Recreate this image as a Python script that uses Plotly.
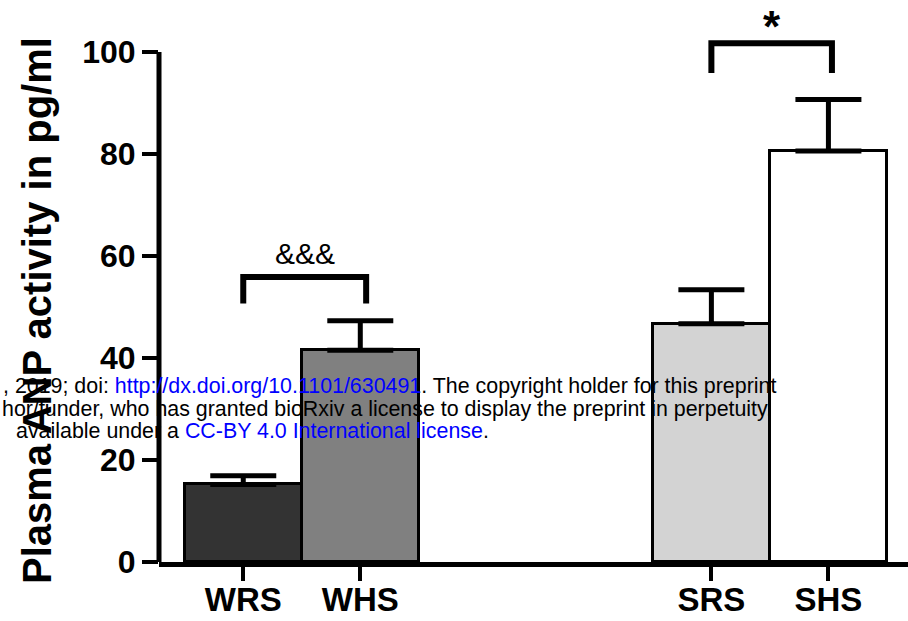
import plotly.graph_objects as go

# Group labels and measured plasma ANP activity (pg/ml), mean and SEM
groups = ["WRS", "WHS", "SRS", "SHS"]
positions = [0, 1, 4, 5]
means = [15.2, 41.5, 46.7, 80.6]
sems = [1.7, 5.8, 6.7, 10.1]
bar_colors = ["#333333", "#808080", "#d3d3d3", "#ffffff"]

y_ticks = [0, 20, 40, 60, 80, 100]

# Significance brackets: (left x, right x, bracket top, leg bottom, label)
brackets = [
    (0.0, 1.05, 55.9, 50.7, "&&&"),
    (4.0, 5.03, 101.7, 95.9, "*"),
]

W, H = 908, 621
L, R, T, B = 159, 0, 0, 59
plot_w, plot_h = W - L - R, H - T - B
PX_PER_UNIT = 5.1


def px_x(px):
    return (px - L) / plot_w


def px_y(py):
    return (H - B - py) / plot_h


fig = go.Figure()
fig.add_trace(go.Bar(
    x=positions,
    y=means,
    width=1.0,
    marker=dict(color=bar_colors, line=dict(color="black", width=3)),
    error_y=dict(type="data", array=sems, arrayminus=[0] * len(sems),
                 symmetric=False, color="black", thickness=5, width=33),
    showlegend=False,
))

shapes = [
    # y axis line, stopping at the top tick
    dict(type="line", xref="paper", yref="y", x0=0, x1=0, y0=0, y1=100,
         line=dict(color="black", width=5)),
]
annotations = []
for x0, x1, top, leg, label in brackets:
    shapes.append(dict(
        type="path", xref="x", yref="y",
        path=f"M {x0},{leg} L {x0},{top} L {x1},{top} L {x1},{leg}",
        line=dict(color="black", width=6),
    ))
    if label == "*":
        annotations.append(dict(
            x=(x0 + x1) / 2, y=1.0, xref="x", yref="paper", text=f"<b>{label}</b>",
            showarrow=False, xanchor="center", yanchor="top",
            font=dict(family="Liberation Sans, Arial", size=44, color="black"),
        ))
    else:
        annotations.append(dict(
            x=(x0 + x1) / 2, y=top + 4.6, xref="x", yref="y", text=label,
            showarrow=False, xanchor="center", yanchor="middle",
            font=dict(family="Liberation Sans, Arial", size=30, color="black"),
        ))

# Rotated y-axis title
annotations.append(dict(
    x=px_x(37), y=px_y(311), xref="paper", yref="paper",
    text="<b>Plasma ANP activity in pg/ml</b>", showarrow=False, textangle=-90,
    xanchor="center", yanchor="middle",
    font=dict(family="Liberation Sans, Arial", size=40, color="black"),
))

# Preprint notice overprinted across the figure
blue = "#0000ff"
notice = [
    (1, 386, ", 2019; doi: <span style='color:%s'>http://dx.doi.org/10.1101/630491</span>"
             ". The copyright holder for this preprint" % blue),
    (0, 409, "hor/funder, who has granted bioRxiv a license to display the preprint in perpetuity."),
    (14, 431, "available under a <span style='color:%s'>CC-BY 4.0 International license</span>." % blue),
]
for lx, ly, txt in notice:
    annotations.append(dict(
        x=px_x(lx), y=px_y(ly), xref="paper", yref="paper", text=txt,
        showarrow=False, xanchor="left", yanchor="middle", align="left",
        font=dict(family="Liberation Sans, Arial", size=21.4, color="black"),
    ))

fig.update_layout(
    width=W, height=H,
    margin=dict(l=L, r=R, t=T, b=B, pad=0, autoexpand=False),
    paper_bgcolor="white", plot_bgcolor="white",
    bargap=0,
    shapes=shapes,
    annotations=annotations,
    xaxis=dict(
        range=[-0.72, 5.68], tickvals=positions,
        ticktext=[f"<b>{g}</b>" for g in groups],
        showline=True, linecolor="black", linewidth=5,
        ticks="outside", ticklen=14, tickwidth=4, tickcolor="black",
        showgrid=False, zeroline=False, automargin=False,
        ticklabelstandoff=-10,
        tickfont=dict(family="Liberation Sans, Arial", size=33, color="black"),
    ),
    yaxis=dict(
        range=[0, plot_h / PX_PER_UNIT], tickvals=y_ticks,
        ticktext=[f"<b>{v}</b>" for v in y_ticks],
        showline=False, ticks="outside", ticklen=16, tickwidth=4,
        tickcolor="black", showgrid=False, zeroline=False, automargin=False,
        tickfont=dict(family="Liberation Sans, Arial", size=32, color="black"),
    ),
)

fig.write_html("out.html")
